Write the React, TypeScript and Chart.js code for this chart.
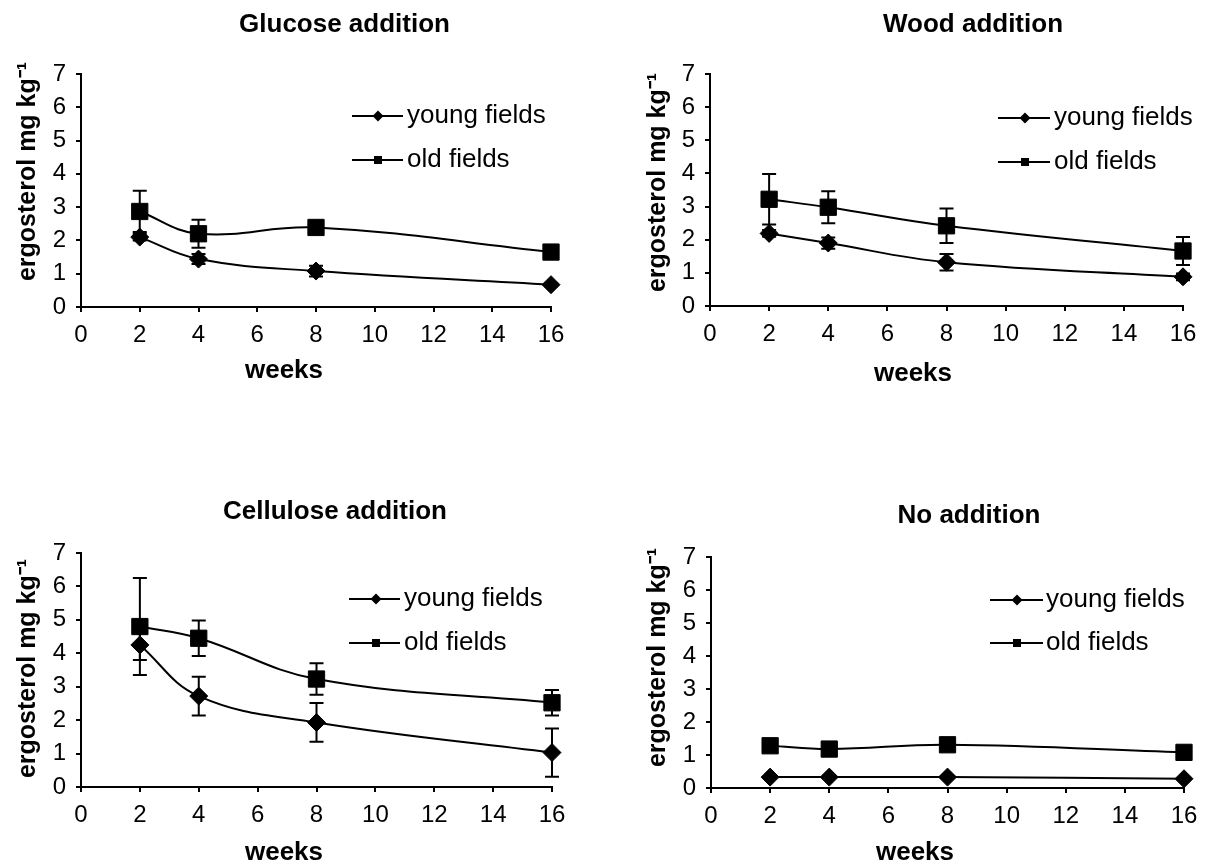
import React, { useEffect, useRef } from "react";
import { Chart, registerables } from "chart.js";

Chart.register(...registerables);

// ---------- data ----------
const weeks = [2, 4, 8, 16];
const seriesLabels = ["young fields", "old fields"];
const panelTitles = ["Glucose addition", "Wood addition", "Cellulose addition", "No addition"];
const yAxisTitle = "ergosterol mg kg⁻¹";
const xAxisTitle = "weeks";

const glucoseYoung = [2.1, 1.44, 1.08, 0.67];
const glucoseYoungErr = [0.1, 0.15, 0.16, 0.05];
const glucoseOld = [2.87, 2.2, 2.39, 1.65];
const glucoseOldErr = [0.62, 0.42, 0.1, 0.05];

const woodYoung = [2.19, 1.9, 1.32, 0.88];
const woodYoungErr = [0.1, 0.17, 0.25, 0.1];
const woodOld = [3.22, 2.98, 2.42, 1.66];
const woodOldErr = [0.76, 0.48, 0.52, 0.42];

const celluloseYoung = [4.25, 2.72, 1.93, 1.03];
const celluloseYoungErr = [0.45, 0.58, 0.58, 0.72];
const celluloseOld = [4.8, 4.45, 3.23, 2.52];
const celluloseOldErr = [1.45, 0.53, 0.47, 0.38];

const noneYoung = [0.33, 0.33, 0.33, 0.28];
const noneYoungErr = [0.03, 0.03, 0.03, 0.03];
const noneOld = [1.28, 1.18, 1.31, 1.08];
const noneOldErr = [0.05, 0.05, 0.05, 0.05];

const panelYoung = [glucoseYoung, woodYoung, celluloseYoung, noneYoung];
const panelYoungErr = [glucoseYoungErr, woodYoungErr, celluloseYoungErr, noneYoungErr];
const panelOld = [glucoseOld, woodOld, celluloseOld, noneOld];
const panelOldErr = [glucoseOldErr, woodOldErr, celluloseOldErr, noneOldErr];

// ---------- layout (positions / styles) ----------
const FONT = "'Liberation Sans', Arial, Helvetica, sans-serif";
Chart.defaults.font.family = FONT;
const TICK_SIZE = 24;

type Layout = {
  left: number; top: number; w: number; h: number;
  area: { l: number; r: number; t: number; b: number };
  title: [number, number];
  yTitle: [number, number];
  xTitle: [number, number];
  legend: { x1: number; x2: number; xm: number; xt: number; ys: [number, number] };
};

const layouts: Layout[] = [
  {
    left: 0, top: 0, w: 605, h: 430,
    area: { l: 81, r: 551, t: 74, b: 307 },
    title: [344.5, 25], yTitle: [28, 171.5], xTitle: [284, 371],
    legend: { x1: 352, x2: 403, xm: 378, xt: 407, ys: [116, 160] },
  },
  {
    left: 605, top: 0, w: 604, h: 430,
    area: { l: 105, r: 578, t: 74, b: 306 },
    title: [368, 25], yTitle: [53, 182.5], xTitle: [308, 374],
    legend: { x1: 393, x2: 445, xm: 420, xt: 449, ys: [118, 162] },
  },
  {
    left: 0, top: 430, w: 605, h: 436,
    area: { l: 81, r: 552, t: 123, b: 357 },
    title: [335, 82], yTitle: [28, 238.5], xTitle: [284, 422.5],
    legend: { x1: 349, x2: 400, xm: 376, xt: 404, ys: [169, 213] },
  },
  {
    left: 605, top: 430, w: 604, h: 436,
    area: { l: 106, r: 579, t: 127, b: 358 },
    title: [364, 86], yTitle: [53, 227.5], xTitle: [310, 423],
    legend: { x1: 385, x2: 438, xm: 412, xt: 441, ys: [170, 213] },
  },
];

const errorBarsPlugin = {
  id: "errorBars",
  afterDatasetsDraw(chart: any) {
    const ctx = chart.ctx;
    const ys = chart.scales.y;
    ctx.save();
    ctx.strokeStyle = "#000";
    ctx.lineWidth = 2;
    chart.data.datasets.forEach((ds: any, i: number) => {
      const meta = chart.getDatasetMeta(i);
      meta.data.forEach((pt: any, j: number) => {
        const v = ds.data[j].y;
        const e = ds.errors[j];
        const x = pt.x;
        const yT = ys.getPixelForValue(v + e);
        const yB = ys.getPixelForValue(v - e);
        ctx.beginPath();
        ctx.moveTo(x, yT);
        ctx.lineTo(x, yB);
        ctx.moveTo(x - 7, yT);
        ctx.lineTo(x + 7, yT);
        ctx.moveTo(x - 7, yB);
        ctx.lineTo(x + 7, yB);
        ctx.stroke();
      });
    });
    ctx.restore();
  },
};

function makeTextPlugin(idx: number) {
  const L = layouts[idx];
  return {
    id: "panelText" + idx,
    afterDraw(chart: any) {
      const ctx = chart.ctx;
      ctx.save();
      ctx.fillStyle = "#000";
      ctx.textBaseline = "middle";
      ctx.textAlign = "center";
      ctx.font = `bold 26px ${FONT}`;
      ctx.fillText(panelTitles[idx], L.title[0], L.title[1]);
      ctx.fillText(xAxisTitle, L.xTitle[0], L.xTitle[1]);
      ctx.save();
      ctx.translate(L.yTitle[0], L.yTitle[1]);
      ctx.rotate(-Math.PI / 2);
      ctx.font = `bold 25px ${FONT}`;
      ctx.fillText(yAxisTitle, 0, 0);
      ctx.restore();

      // legend
      chart.data.datasets.forEach((ds: any, i: number) => {
        const y = L.legend.ys[i];
        ctx.strokeStyle = "#000";
        ctx.lineWidth = 2;
        ctx.beginPath();
        ctx.moveTo(L.legend.x1, y);
        ctx.lineTo(L.legend.x2, y);
        ctx.stroke();
        ctx.beginPath();
        const xm = L.legend.xm;
        if (ds.pointStyle === "rectRot") {
          const r = 5.5;
          ctx.moveTo(xm - r, y);
          ctx.lineTo(xm, y - r);
          ctx.lineTo(xm + r, y);
          ctx.lineTo(xm, y + r);
          ctx.closePath();
        } else {
          ctx.rect(xm - 4, y - 4, 8, 8);
        }
        ctx.fill();
        ctx.font = `26px ${FONT}`;
        ctx.textAlign = "left";
        ctx.fillText(ds.label, L.legend.xt, y);
      });
      ctx.restore();
    },
  };
}

function Panel({ idx }: { idx: number }) {
  const ref = useRef<HTMLCanvasElement>(null);
  const L = layouts[idx];
  useEffect(() => {
    if (!ref.current) return;
    const mk = (vals: number[]) => weeks.map((w, i) => ({ x: w, y: vals[i] }));
    const tickFont = { size: TICK_SIZE, family: FONT };
    const gridOpts = { drawOnChartArea: false, drawTicks: true, tickLength: 5, color: "#000", lineWidth: 2 };
    const borderOpts = { color: "#000", width: 2 };
    const chart = new Chart(ref.current, {
      type: "line",
      data: {
        datasets: [
          {
            label: seriesLabels[0],
            data: mk(panelYoung[idx]),
            errors: panelYoungErr[idx],
            borderColor: "#000",
            backgroundColor: "#000",
            pointBackgroundColor: "#000",
            pointBorderColor: "#000",
            borderWidth: 2,
            pointStyle: "rectRot",
            pointRadius: 9,
            pointBorderWidth: 1,
            tension: 0.4,
            clip: false,
          } as any,
          {
            label: seriesLabels[1],
            data: mk(panelOld[idx]),
            errors: panelOldErr[idx],
            borderColor: "#000",
            backgroundColor: "#000",
            pointBackgroundColor: "#000",
            pointBorderColor: "#000",
            borderWidth: 2,
            pointStyle: "rect",
            pointRadius: 11.5,
            pointBorderWidth: 1,
            tension: 0.4,
            clip: false,
          } as any,
        ],
      },
      options: {
        responsive: false,
        animation: false,
        events: [],
        font: { family: FONT, size: TICK_SIZE },
        layout: { padding: { top: L.area.t, right: L.w - L.area.r, left: 0, bottom: 0 } },
        plugins: {
          legend: { display: false },
          tooltip: { enabled: false },
          title: { display: false },
        },
        scales: {
          x: {
            type: "linear",
            min: 0,
            max: 16,
            afterFit: (s: any) => { s.height = L.h - L.area.b; },
            ticks: { stepSize: 2, color: "#000", font: tickFont, padding: 9, maxRotation: 0, autoSkip: false },
            grid: gridOpts,
            border: borderOpts,
          },
          y: {
            type: "linear",
            min: 0,
            max: 7,
            afterFit: (s: any) => { s.width = L.area.l; },
            ticks: { stepSize: 1, color: "#000", font: tickFont, padding: 10 },
            grid: gridOpts,
            border: borderOpts,
          },
        },
      } as any,
      plugins: [errorBarsPlugin, makeTextPlugin(idx)],
    });
    return () => chart.destroy();
  }, [idx]);
  return (
    <canvas
      ref={ref}
      width={L.w}
      height={L.h}
      style={{ position: "absolute", left: L.left, top: L.top, width: L.w, height: L.h }}
    />
  );
}

export default function App() {
  return (
    <div style={{ position: "absolute", left: 0, top: 0, width: 1209, height: 866, background: "#fff" }}>
      {[0, 1, 2, 3].map((i) => (
        <Panel key={i} idx={i} />
      ))}
    </div>
  );
}
